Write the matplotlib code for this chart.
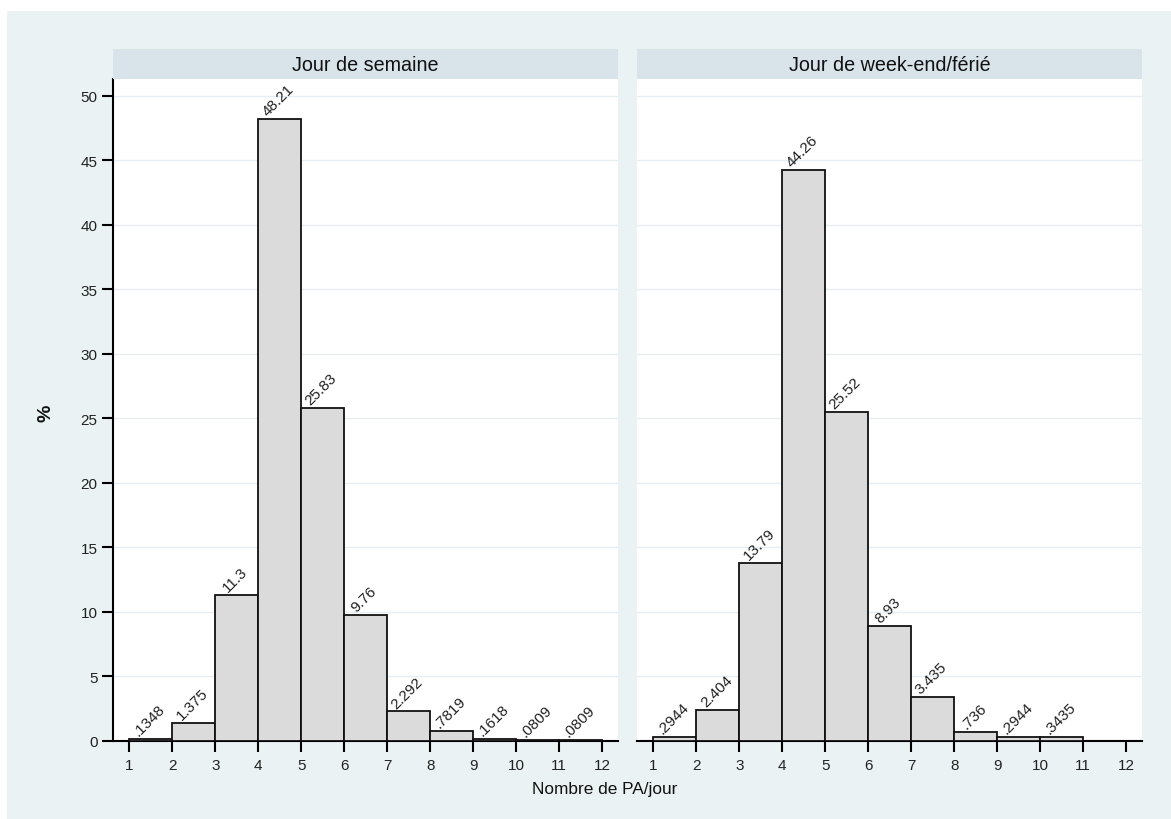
import matplotlib
matplotlib.use("Agg")
import matplotlib.pyplot as plt
from matplotlib.patches import Rectangle

plt.rcParams["font.family"] = ["Liberation Sans", "DejaVu Sans"]

# Data ----------------------------------------------------------------
panel_titles = ["Jour de semaine", "Jour de week-end/férié"]
bins_week = [1, 2, 3, 4, 5, 6, 7, 8, 9, 10, 11]
pct_week = [0.1348, 1.375, 11.3, 48.21, 25.83, 9.76, 2.292, 0.7819, 0.1618, 0.0809, 0.0809]
lab_week = [".1348", "1.375", "11.3", "48.21", "25.83", "9.76", "2.292", ".7819", ".1618", ".0809", ".0809"]
bins_wend = [1, 2, 3, 4, 5, 6, 7, 8, 9, 10]
pct_wend = [0.2944, 2.404, 13.79, 44.26, 25.52, 8.93, 3.435, 0.736, 0.2944, 0.3435]
lab_wend = [".2944", "2.404", "13.79", "44.26", "25.52", "8.93", "3.435", ".736", ".2944", ".3435"]
xticks = list(range(1, 13))
yticks = list(range(0, 51, 5))

BG = "#EAF2F3"
STRIP = "#D8E4EA"
GRID = "#E6EEF1"
BAR = "#DBDBDB"

W, H = 1171, 820
fig = plt.figure(figsize=(W / 100, H / 100), dpi=100, facecolor="white")
# light outer plot region (behind everything)
fig.patches.append(Rectangle((7 / W, 0), 1 - 7 / W, 1 - 12 / H,
                             transform=fig.transFigure, facecolor=BG,
                             edgecolor="none", zorder=-10))

ax_left = [113 / W, 637 / W]
ax_w = 505 / W
ax_b = (H - 742) / H
ax_h = 662 / H
strip_h = 30 / H

panels = [(bins_week, pct_week, lab_week), (bins_wend, pct_wend, lab_wend)]
for i, (bins, pct, labs) in enumerate(panels):
    ax = fig.add_axes([ax_left[i], ax_b, ax_w, ax_h])
    ax.set_facecolor("white")
    ax.bar(bins, pct, width=1.0, align="edge", color=BAR,
           edgecolor="#111111", linewidth=1.3, zorder=3)
    for b, v, s in zip(bins, pct, labs):
        ax.annotate(s, (b + 0.5, v), xytext=(-1, 0.5), textcoords="offset points",
                    rotation=45, ha="center", va="bottom", fontsize=11,
                    color="#222222", zorder=4)
    ax.set_xlim(0.62, 12.37)
    ax.set_ylim(0, 51.3)
    ax.set_xticks(xticks)
    ax.set_yticks(yticks)
    ax.grid(axis="y", color=GRID, linewidth=1.0, zorder=0)
    ax.set_axisbelow(True)
    for sp in ["top", "right"]:
        ax.spines[sp].set_visible(False)
    ax.spines["bottom"].set_linewidth(1.5)
    ax.tick_params(axis="x", length=8, width=1.5, labelsize=11,
                   labelcolor="#222222", pad=4)
    if i == 0:
        ax.spines["left"].set_linewidth(1.5)
        ax.tick_params(axis="y", length=8, width=1.5, labelsize=11,
                       labelcolor="#222222", pad=3)
    else:
        ax.spines["left"].set_visible(False)
        ax.tick_params(axis="y", left=False, labelleft=False)

    # facet strip
    sax = fig.add_axes([ax_left[i], ax_b + ax_h, ax_w, strip_h])
    sax.set_facecolor(STRIP)
    sax.set_xticks([])
    sax.set_yticks([])
    for sp in sax.spines.values():
        sp.set_visible(False)
    sax.text(0.5, 0.48, panel_titles[i], ha="center", va="center",
             fontsize=14.2, color="#111111", transform=sax.transAxes)

fig.text(46 / W, 1 - 413 / H, "%", rotation=90, ha="center", va="center",
         fontsize=14, fontweight="bold", color="#111111")
fig.text(605 / W, 1 - 790 / H, "Nombre de PA/jour", ha="center", va="center",
         fontsize=12.4, color="#111111")

fig.savefig("out.png", dpi=100, facecolor="white")
